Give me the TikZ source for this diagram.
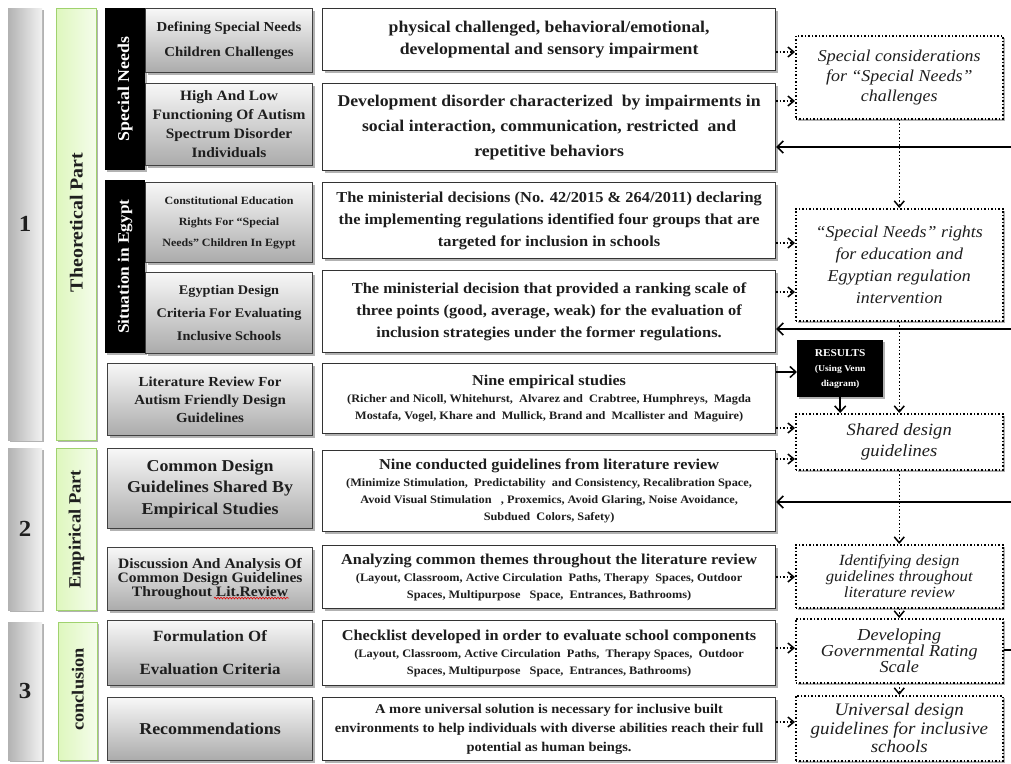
\documentclass[tikz,border=0pt]{standalone}
\usepackage{fontspec}
\setmainfont{Liberation Serif}[FakeStretch=1.08]
\usetikzlibrary{arrows.meta,shadows,decorations.pathmorphing}
\definecolor{gfill}{RGB}{222,247,190}
\definecolor{gline}{RGB}{160,210,110}
\definecolor{txt}{RGB}{30,30,30}
\newcommand\fs[2]{\fontsize{#1}{#2}\selectfont}
\tikzset{
  shad/.style={drop shadow={shadow xshift=2pt,shadow yshift=-2pt,opacity=0.3,fill=black}},
  sz/.style 2 args={minimum width=#1, minimum height=#2},
  numbar/.style={shad, left color=black!30, right color=black!5, anchor=north west, inner sep=0pt, font=\bfseries\fs{23}{26}, text=txt},
  greenbar/.style={shad, draw=gline, line width=0.8pt, left color=gfill, right color=gfill!30!white, anchor=north west, inner sep=0pt},
  blackbar/.style={shad, fill=black, anchor=north west, inner sep=0pt},
  vlab/.style={rotate=90, font=\bfseries, text=txt, inner sep=0pt},
  gbox/.style={shad, draw=black!75, line width=1.1pt, top color=black!3, bottom color=black!33, anchor=north west, inner sep=1pt, align=center, font=\bfseries, text=txt},
  wbox/.style={shad, draw=black!80, line width=1.2pt, fill=white, anchor=north west, inner sep=1pt, align=center, font=\bfseries, text=txt},
  dbox/.style={shad, draw=black, dotted, line width=1.5pt, fill=white, anchor=north west, inner sep=1pt, align=center, font=\itshape, text=txt},
  darr/.style={dotted, line width=1.5pt, -{Straight Barb[length=6pt,width=10pt,line width=1.5pt]}},
  farr/.style={line width=1.5pt, {Straight Barb[length=6pt,width=12pt,line width=1.5pt]}-},
  sarr/.style={line width=1.5pt, -{Straight Barb[length=6pt,width=11pt,line width=1.5pt]}},
  sline/.style={line width=1.5pt},
  spell/.style={red!90!black, line width=0.6pt, decorate, decoration={snake, amplitude=0.8pt, segment length=3pt}},
}
\begin{document}
\begin{tikzpicture}[x=1pt,y=-1pt]
\useasboundingbox (0,0) rectangle (1011,763);
% number bars
\node[numbar, sz={34}{432}] (n1) at (8,8) {1};
\node[numbar, sz={34}{162}] (n2) at (8,448) {2};
\node[numbar, sz={34}{138}] (n3) at (8,622) {3};
% green bars
\node[greenbar, sz={40}{432}] (g1) at (56,8) {};
\node[greenbar, sz={40}{162}] (g2) at (56,448) {};
\node[greenbar, sz={39}{138}] (g3) at (58,622) {};
\node[vlab, font=\bfseries\fs{18.4}{20}] (lg1) at ([yshift=2pt]g1.center) {Theoretical Part};
\node[vlab, font=\bfseries\fs{17.2}{20}] (lg2) at (g2.center) {Empirical Part};
\node[vlab, font=\bfseries\fs{17}{20}] (lg3) at ([yshift=2pt]g3.center) {conclusion};
% black bars
\node[blackbar, sz={40}{162}] (k1) at (105,8) {};
\node[blackbar, sz={40}{173}] (k2) at (105,180) {};
\node[vlab, text=white, font=\bfseries\fs{16.5}{20}] (lk1) at (k1.center) {Special Needs};
\node[vlab, text=white, font=\bfseries\fs{16}{20}] (lk2) at (k2.center) {Situation in Egypt};
% grey boxes
\node[gbox, sz={167}{64}, font=\bfseries\fs{13.7}{25}] (b1) at (145,8) {Defining Special Needs\\Children Challenges};
\node[gbox, sz={167}{82}, font=\bfseries\fs{14.3}{19}] (b2) at (145,83) {High And Low\\Functioning Of Autism\\Spectrum Disorder\\Individuals};
\node[gbox, sz={167}{80}, font=\bfseries\fs{11.1}{21}] (b3) at (145,182) {Constitutional Education\\Rights For “Special\\Needs” Children In Egypt};
\node[gbox, sz={167}{81}, font=\bfseries\fs{13.2}{23}] (b4) at (145,272) {Egyptian Design\\Criteria For Evaluating\\Inclusive Schools};
\node[gbox, sz={205}{72}, font=\bfseries\fs{13.8}{18}] (b5) at (107,363) {Literature Review For\\Autism Friendly Design\\Guidelines};
\node[gbox, sz={205}{80}, font=\bfseries\fs{16.6}{21.5}] (b6) at (107,448) {Common Design\\Guidelines Shared By\\Empirical Studies};
\node[gbox, sz={205}{63}, font=\bfseries\fs{14.4}{14}] (b7) at (107,547) {Discussion And Analysis Of\\Common Design Guidelines\\Throughout Lit.Review};
\node[gbox, sz={205}{65}, font=\bfseries\fs{15.6}{33}] (b8) at (107,620) {Formulation Of\\Evaluation Criteria};
\node[gbox, sz={205}{63}, font=\bfseries\fs{16.6}{20}] (b9) at (107,697) {Recommendations};
\draw[spell] ([xshift=4pt,yshift=-19pt]b7.center) -- ([xshift=79pt,yshift=-19pt]b7.center);
% white boxes
\node[wbox, sz={453}{62}, font=\bfseries\fs{16.4}{22}] (e1) at (322,8) {physical challenged, behavioral/emotional,\\developmental and sensory impairment};
\node[wbox, sz={453}{87}, font=\bfseries\fs{16.4}{25}] (e2) at (322,83) {Development disorder characterized\ \ by impairments in\\social interaction, communication, restricted\ \ and\\repetitive behaviors};
\node[wbox, sz={453}{76}, font=\bfseries\fs{15.2}{22}] (e3) at (322,182) {The ministerial decisions (No. 42/2015 \& 264/2011) declaring\\the implementing regulations identified four groups that are\\targeted for inclusion in schools};
\node[wbox, sz={453}{82}, font=\bfseries\fs{15.2}{22}] (e4) at (322,270) {The ministerial decision that provided a ranking scale of\\three points (good, average, weak) for the evaluation of\\inclusion strategies under the former regulations.};
\node[wbox, sz={453}{70}, font=\bfseries\fs{11.4}{17}] (e5) at (322,363) {{\fs{15}{20}Nine empirical studies}\\(Richer and Nicoll, Whitehurst,\ \ Alvarez and\ \ Crabtree, Humphreys,\ \ Magda\\Mostafa, Vogel, Khare and\ \ Mullick, Brand and\ \ Mcallister and\ \ Maguire)};
\node[wbox, sz={453}{81}, font=\bfseries\fs{11.4}{17}] (e6) at (322,450) {{\fs{15.1}{19}Nine conducted guidelines from literature review}\\(Minimize Stimulation,\ \ Predictability\ \ and Consistency, Recalibration Space,\\Avoid Visual Stimulation\ \ \ , Proxemics, Avoid Glaring, Noise Avoidance,\\Subdued\ \ Colors, Safety)};
\node[wbox, sz={453}{63}, font=\bfseries\fs{11.4}{17}] (e7) at (322,545) {{\fs{15.1}{19}Analyzing common themes throughout the literature review}\\(Layout, Classroom, Active Circulation\ \ Paths, Therapy\ \ Spaces, Outdoor\\Spaces, Multipurpose\ \ \ Space,\ \ Entrances, Bathrooms)};
\node[wbox, sz={453}{65}, font=\bfseries\fs{11.4}{17}] (e8) at (322,620) {{\fs{15.1}{19}Checklist developed in order to evaluate school components}\\(Layout, Classroom, Active Circulation\ \ Paths,\ \ Therapy Spaces,\ \ Outdoor\\Spaces, Multipurpose\ \ \ Space,\ \ Entrances, Bathrooms)};
\node[wbox, sz={453}{63}, font=\bfseries\fs{13.4}{19}] (e9) at (322,697) {A more universal solution is necessary for inclusive built\\environments to help individuals with diverse abilities reach their full\\potential as human beings.};
% dotted boxes
\node[dbox, sz={207}{83}, font=\itshape\fs{16.6}{20}] (f1) at (795,35) {Special considerations\\for “Special Needs”\\challenges};
\node[dbox, sz={207}{112}, font=\itshape\fs{16.6}{22}] (f2) at (795,208) {“Special Needs” rights\\for education and\\Egyptian regulation\\intervention};
\node[dbox, sz={207}{56}, font=\itshape\fs{17.2}{21}] (f3) at (795,413) {Shared design\\guidelines};
\node[dbox, sz={207}{63}, font=\itshape\fs{15.5}{16}] (f4) at (795,544) {Identifying design\\guidelines throughout\\literature review};
\node[dbox, sz={207}{64}, font=\itshape\fs{16.8}{16}] (f5) at (795,618) {Developing\\Governmental Rating\\Scale};
\node[dbox, sz={207}{65}, font=\itshape\fs{17.6}{18.5}] (f6) at (795,695) {Universal design\\guidelines for inclusive\\schools};
% results
\node[shad, fill=black, anchor=north west, sz={86}{57}, inner sep=1pt, align=center, text=white, font=\bfseries\fs{10.5}{15}] (res) at (797,340) {RESULTS\\{\fs{9}{15}(Using Venn}\\{\fs{9}{15}diagram)}};
% right edge free ends
\coordinate (r1) at (1011,147);
\coordinate (r2) at (1011,329);
\coordinate (r3) at (1011,502);
\coordinate (r4) at (1011,650);
% dotted arrows E -> F
\draw[darr] (e1.east |- 0,52) -- (f1.west |- 0,52);
\draw[darr] (e2.east |- 0,101) -- (f1.west |- 0,101);
\draw[darr] (e3.east |- 0,243) -- (f2.west |- 0,243);
\draw[darr] (e4.east |- 0,292) -- (f2.west |- 0,292);
\draw[darr] (e5.east |- 0,428) -- (f3.west |- 0,428);
\draw[darr] (e6.east |- 0,459) -- (f3.west |- 0,459);
\draw[darr] (e7.east |- 0,577) -- (f4.west |- 0,577);
\draw[darr] (e8.east |- 0,648) -- (f5.west |- 0,648);
\draw[darr] (e9.east |- 0,722) -- (f6.west |- 0,722);
% results
\draw[sarr] (e5.east |- 0,372) -- (res.west |- 0,372);
\draw[sarr] (res.south) -- (res.south |- f3.north);
% vertical dotted chain
\draw[darr] (f1.south) -- (f2.north);
\draw[darr] (f2.south) -- (f3.north);
\draw[darr] (f3.south) -- (f4.north);
\draw[darr] (f4.south) -- (f5.north);
\draw[darr] (f5.south) -- (f6.north);
% feedback lines
\draw[farr] (e2.east |- r1) -- (r1);
\draw[farr] (e4.east |- r2) -- (r2);
\draw[farr] (e6.east |- r3) -- (r3);
\draw[sline] (f5.east |- r4) -- (r4);
\end{tikzpicture}
\end{document}
